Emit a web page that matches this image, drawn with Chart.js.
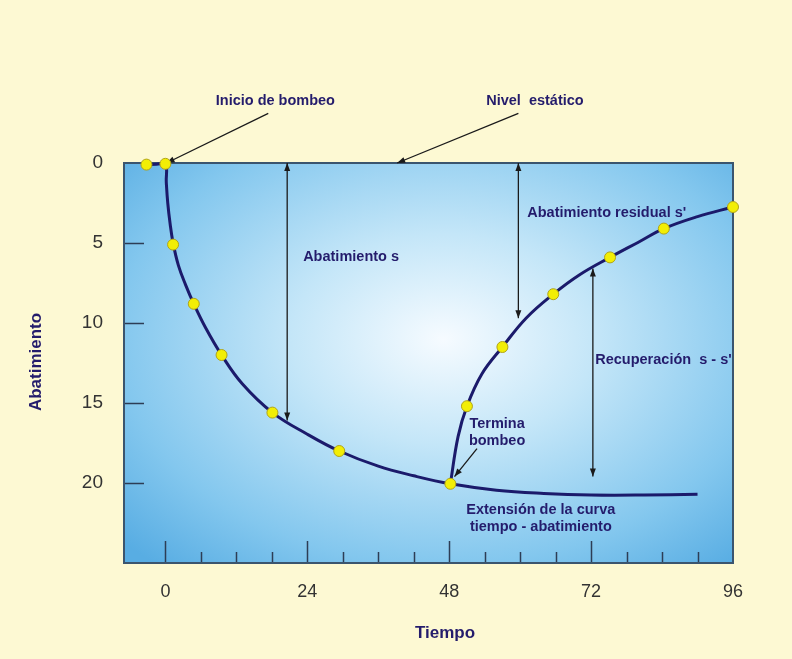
<!DOCTYPE html>
<html>
<head>
<meta charset="utf-8">
<script src="https://cdn.jsdelivr.net/npm/chart.js@4"></script>
<style>
    html, body { margin: 0; padding: 0; background: #fdf9d3; }
    #wrap { width: 792px; height: 659px; }
</style>
</head>
<body>
<div id="wrap"><canvas id="chart" width="792" height="659"></canvas></div>
<script>
// Tick values
const xTicks = [0, 24, 48, 72, 96];
const xMinorTicks = [6, 12, 18, 30, 36, 42, 54, 60, 66, 78, 84, 90];
const yTicks = [0, 5, 10, 15, 20];

// Observed points (yellow markers)
const pumpObsX = [-3.2, 0, 1.3, 4.8, 9.5, 18.1, 29.4, 48.2];
const pumpObsY = [0.1, 0.05, 5.1, 8.8, 12.0, 15.6, 18.0, 20.05];
const recObsX = [51, 57, 65.6, 75.2, 84.3, 96];
const recObsY = [15.2, 11.5, 8.2, 5.9, 4.1, 2.75];

// Drawdown curve (with its extension)
const pumpCurveX = [-3.2, -1.5, 0, 0.15, 0.4, 0.8, 1.3, 2.2, 3.4, 4.8, 6.8, 9.5, 13, 18.1, 24, 29.4, 36, 42, 48.2, 56, 64, 72, 81, 90];
const pumpCurveY = [0.1, 0.08, 0.05, 1.2, 2.5, 3.8, 5.0, 6.4, 7.6, 8.8, 10.3, 12.0, 13.8, 15.6, 16.95, 18.0, 18.95, 19.55, 20.05, 20.45, 20.65, 20.75, 20.75, 20.7];

// Recovery curve
const recCurveX = [48.2, 49.5, 51, 53.5, 57, 61, 65.6, 70, 75.2, 80, 84.3, 90, 96];
const recCurveY = [20.05, 17.1, 15.2, 13.2, 11.5, 9.7, 8.2, 7.0, 5.9, 4.95, 4.1, 3.35, 2.75];

const zip = (xs, ys) => xs.map((x, i) => ({ x: x, y: ys[i] }));

const navy = '#241c6c';
const lineColor = '#1b1a6b';
const font = '"Liberation Sans", Arial, sans-serif';

// Labels and arrows, in data coordinates
const labels = [
    { text: 'Inicio de bombeo', x: 18.6, y: -3.9, align: 'center' },
    { text: 'Nivel  estático', x: 62.5, y: -3.9, align: 'center' },
    { text: 'Abatimiento s', x: 23.3, y: 5.9, align: 'left' },
    { text: "Abatimiento residual s'", x: 61.2, y: 3.1, align: 'left' },
    { text: "Recuperación  s - s'", x: 72.7, y: 12.3, align: 'left' },
    { text: 'Termina', x: 56.1, y: 16.3, align: 'center' },
    { text: 'bombeo', x: 56.1, y: 17.4, align: 'center' },
    { text: 'Extensión de la curva', x: 63.5, y: 21.7, align: 'center' },
    { text: 'tiempo - abatimiento', x: 63.5, y: 22.75, align: 'center' }
];
const arrows = [
    { x1: 17.4, y1: -3.1, x2: 0.2, y2: 0, heads: 'end' },
    { x1: 59.7, y1: -3.1, x2: 39.2, y2: 0, heads: 'end' },
    { x1: 20.6, y1: 0, x2: 20.6, y2: 16.1, heads: 'both' },
    { x1: 59.7, y1: 0, x2: 59.7, y2: 9.7, heads: 'both' },
    { x1: 72.3, y1: 6.6, x2: 72.3, y2: 19.6, heads: 'both' },
    { x1: 52.7, y1: 17.85, x2: 48.9, y2: 19.6, heads: 'end' }
];

function arrowHead(ctx, fx, fy, tx, ty) {
    const a = Math.atan2(ty - fy, tx - fx);
    const len = 8, w = 3;
    ctx.beginPath();
    ctx.moveTo(tx, ty);
    ctx.lineTo(tx - len * Math.cos(a) + w * Math.sin(a), ty - len * Math.sin(a) - w * Math.cos(a));
    ctx.lineTo(tx - len * Math.cos(a) - w * Math.sin(a), ty - len * Math.sin(a) + w * Math.cos(a));
    ctx.closePath();
    ctx.fill();
}

const decor = {
    id: 'decor',
    beforeDatasetsDraw(chart) {
        const { ctx, chartArea: a, scales: { x, y } } = chart;
        ctx.save();

        // blue panel with a light centre
        const cx = x.getPixelForValue(47), cy = y.getPixelForValue(11);
        ctx.save();
        ctx.translate(cx, cy);
        ctx.scale(1.45, 1);
        const g = ctx.createRadialGradient(0, 0, 0, 0, 0, 300);
        g.addColorStop(0, '#f6fbff');
        g.addColorStop(0.35, '#c4e6f8');
        g.addColorStop(0.75, '#83c7ee');
        g.addColorStop(1, '#58ade3');
        ctx.fillStyle = g;
        ctx.fillRect((a.left - cx) / 1.45, a.top - cy, a.width / 1.45, a.height);
        ctx.restore();

        // inner tick marks
        ctx.strokeStyle = '#2d3d55';
        ctx.lineWidth = 1.5;
        ctx.beginPath();
        yTicks.filter(v => v > 0).forEach(v => {
            const py = Math.round(y.getPixelForValue(v)) + 0.5;
            ctx.moveTo(a.left, py);
            ctx.lineTo(a.left + 20, py);
        });
        xTicks.filter(v => v < 96).forEach(v => {
            const px = Math.round(x.getPixelForValue(v)) + 0.5;
            ctx.moveTo(px, a.bottom);
            ctx.lineTo(px, a.bottom - 22);
        });
        xMinorTicks.forEach(v => {
            const px = Math.round(x.getPixelForValue(v)) + 0.5;
            ctx.moveTo(px, a.bottom);
            ctx.lineTo(px, a.bottom - 11);
        });
        ctx.stroke();

        // frame
        ctx.strokeStyle = '#3b556e';
        ctx.lineWidth = 2;
        ctx.strokeRect(a.left, a.top, a.width, a.height);

        // arrows
        ctx.strokeStyle = '#1a1a1a';
        ctx.fillStyle = '#1a1a1a';
        ctx.lineWidth = 1.3;
        arrows.forEach(ar => {
            const x1 = x.getPixelForValue(ar.x1), y1 = y.getPixelForValue(ar.y1);
            const x2 = x.getPixelForValue(ar.x2), y2 = y.getPixelForValue(ar.y2);
            ctx.beginPath();
            ctx.moveTo(x1, y1);
            ctx.lineTo(x2, y2);
            ctx.stroke();
            arrowHead(ctx, x1, y1, x2, y2);
            if (ar.heads === 'both') arrowHead(ctx, x2, y2, x1, y1);
        });

        // text
        ctx.fillStyle = navy;
        ctx.font = 'bold 14.5px ' + font;
        ctx.textBaseline = 'middle';
        labels.forEach(l => {
            ctx.textAlign = l.align;
            ctx.fillText(l.text, x.getPixelForValue(l.x), y.getPixelForValue(l.y));
        });

        // axis titles
        ctx.font = 'bold 17px ' + font;
        ctx.textAlign = 'center';
        ctx.fillText('Tiempo', 445, 633);
        ctx.translate(36, 362);
        ctx.rotate(-Math.PI / 2);
        ctx.fillText('Abatimiento', 0, 0);
        ctx.restore();
    }
};

const ctx = document.getElementById('chart').getContext('2d');
new Chart(ctx, {
    type: 'line',
    data: {
        datasets: [
            {
                data: zip(pumpObsX, pumpObsY).concat(zip(recObsX, recObsY)),
                showLine: false,
                pointRadius: 5.5,
                pointBackgroundColor: '#f2ee05',
                pointBorderColor: '#b0a41a',
                pointBorderWidth: 1,
                order: 0,
                clip: false
            },
            {
                data: zip(pumpCurveX, pumpCurveY),
                borderColor: lineColor,
                borderWidth: 3,
                pointRadius: 0,
                tension: 0.4,
                order: 1,
                clip: false
            },
            {
                data: zip(recCurveX, recCurveY),
                borderColor: lineColor,
                borderWidth: 3,
                pointRadius: 0,
                tension: 0.4,
                order: 1,
                clip: false
            }
        ]
    },
    options: {
        responsive: false,
        animation: false,
        layout: { padding: { top: 163, right: 59, left: 0, bottom: 0 } },
        plugins: {
            legend: { display: false },
            tooltip: { enabled: false }
        },
        scales: {
            x: {
                type: 'linear',
                min: -7,
                max: 96,
                afterBuildTicks: s => { s.ticks = xTicks.map(v => ({ value: v })); },
                afterFit: s => { s.height = 96; },
                grid: { display: false, drawTicks: false },
                border: { display: false },
                ticks: {
                    padding: 18,
                    color: '#333',
                    font: { family: font, size: 18 },
                    maxRotation: 0
                }
            },
            y: {
                type: 'linear',
                reverse: true,
                min: 0,
                max: 25,
                afterBuildTicks: s => { s.ticks = yTicks.map(v => ({ value: v })); },
                afterFit: s => { s.width = 124; },
                grid: { display: false, drawTicks: false },
                border: { display: false },
                ticks: {
                    padding: 21,
                    color: '#333',
                    font: { family: font, size: 19 }
                }
            }
        }
    },
    plugins: [decor]
});
</script>
</body>
</html>
